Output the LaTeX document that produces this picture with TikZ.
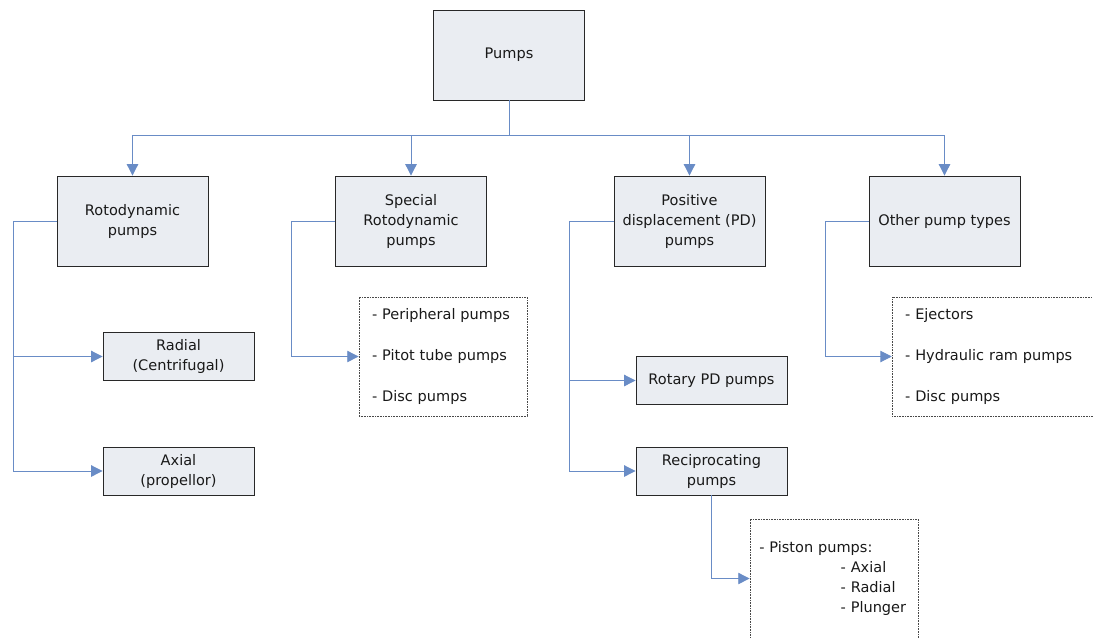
\documentclass[tikz,border=0pt]{standalone}
\usepackage{fontspec}
\setmainfont{DejaVu Sans}
\usetikzlibrary{arrows.meta}
\definecolor{linkblue}{RGB}{105,140,198}
\definecolor{boxfill}{RGB}{234,237,242}
\definecolor{boxline}{RGB}{40,40,40}
\tikzset{
  boxtext/.style={font=\fontsize{10.9}{15}\selectfont, text=black!90, align=center},
  bigbox/.style={boxtext, draw=boxline, line width=0.65pt, fill=boxfill, minimum width=113.25pt, minimum height=67.5pt, inner sep=0pt},
  smallbox/.style={boxtext, draw=boxline, line width=0.65pt, fill=boxfill, minimum width=113.25pt, minimum height=36pt, inner sep=0pt},
  listbox/.style={draw=boxline!85, dash pattern=on 0.6pt off 0.6pt, line width=0.6pt, minimum height=89.25pt, inner xsep=9.75pt, align=left, text=black!90},
  link/.style={draw=linkblue, line width=0.7pt},
  arr/.style={link, -{Triangle[length=8.5pt,width=8.5pt]}}
}
\newcommand{\bigcell}[4]{\node[bigbox] (#1) at ( #2 , #3 ) {#4};}
\newcommand{\smallcell}[4]{\node[smallbox] (#1) at ( #2 , #3 ) {#4};}
\begin{document}
\begin{tikzpicture}[x=0.75pt,y=-0.75pt]
        \useasboundingbox (0,0) rectangle (1093,637);

        % top
        \bigcell{pumps}{509}{55}{Pumps}

        % row 1
        \bigcell{roto}{132.5}{221}{Rotodynamic\\pumps}
        \bigcell{spec}{411}{221}{Special\\Rotodynamic\\pumps}
        \bigcell{posd}{689.5}{221}{Positive\\displacement (PD)\\pumps}
        \bigcell{other}{944.5}{221}{Other pump types}

        % sub boxes
        \smallcell{radial}{178.5}{356.5}{Radial\\(Centrifugal)}
        \smallcell{axial}{178.5}{471}{Axial\\(propellor)}
        \smallcell{rotary}{711.5}{380.5}{Rotary PD pumps}
        \smallcell{recip}{711.5}{471}{Reciprocating\\pumps}

        % dotted lists
        \node[listbox, text width=106.5pt, font=\fontsize{10.9}{30.75}\selectfont] (speclist) at (443,356.5)
            {- Peripheral pumps\\- Pitot tube pumps\\- Disc pumps};
        \node[listbox, text width=132.5pt, font=\fontsize{10.9}{30.75}\selectfont] (otherlist) at (993.5,356.5)
            {- Ejectors\\- Hydraulic ram pumps\\- Disc pumps};
        \node[listbox, text width=112pt, inner xsep=7pt, font=\fontsize{10.9}{15}\selectfont] (piston) at (834,578.5)
            {- Piston pumps:\\\hspace*{61pt}- Axial\\\hspace*{61pt}- Radial\\\hspace*{61pt}- Plunger};

        % rails
        \coordinate (bus) at (509,135);
        \coordinate (rotorail) at (13,221);
        \coordinate (specrail) at (291,221);
        \coordinate (posdrail) at (569,221);
        \coordinate (otherrail) at (825,221);

        % arrows
        \draw[link] (pumps.south) -- (bus);
        \draw[link] (roto.north |- bus) -- (other.north |- bus);
        \draw[arr] (roto.north |- bus) -- (roto.north);
        \draw[arr] (spec.north |- bus) -- (spec.north);
        \draw[arr] (posd.north |- bus) -- (posd.north);
        \draw[arr] (other.north |- bus) -- (other.north);

        \draw[arr] (roto.west) -- (rotorail) |- (radial.west);
        \draw[arr] (rotorail) |- (axial.west);
        \draw[arr] (spec.west) -- (specrail) |- (speclist.west);
        \draw[arr] (posd.west) -- (posdrail) |- (rotary.west);
        \draw[arr] (posdrail) |- (recip.west);
        \draw[arr] (recip.south) |- (piston.west);
        \draw[arr] (other.west) -- (otherrail) |- (otherlist.west);

    \end{tikzpicture}
\end{document}
